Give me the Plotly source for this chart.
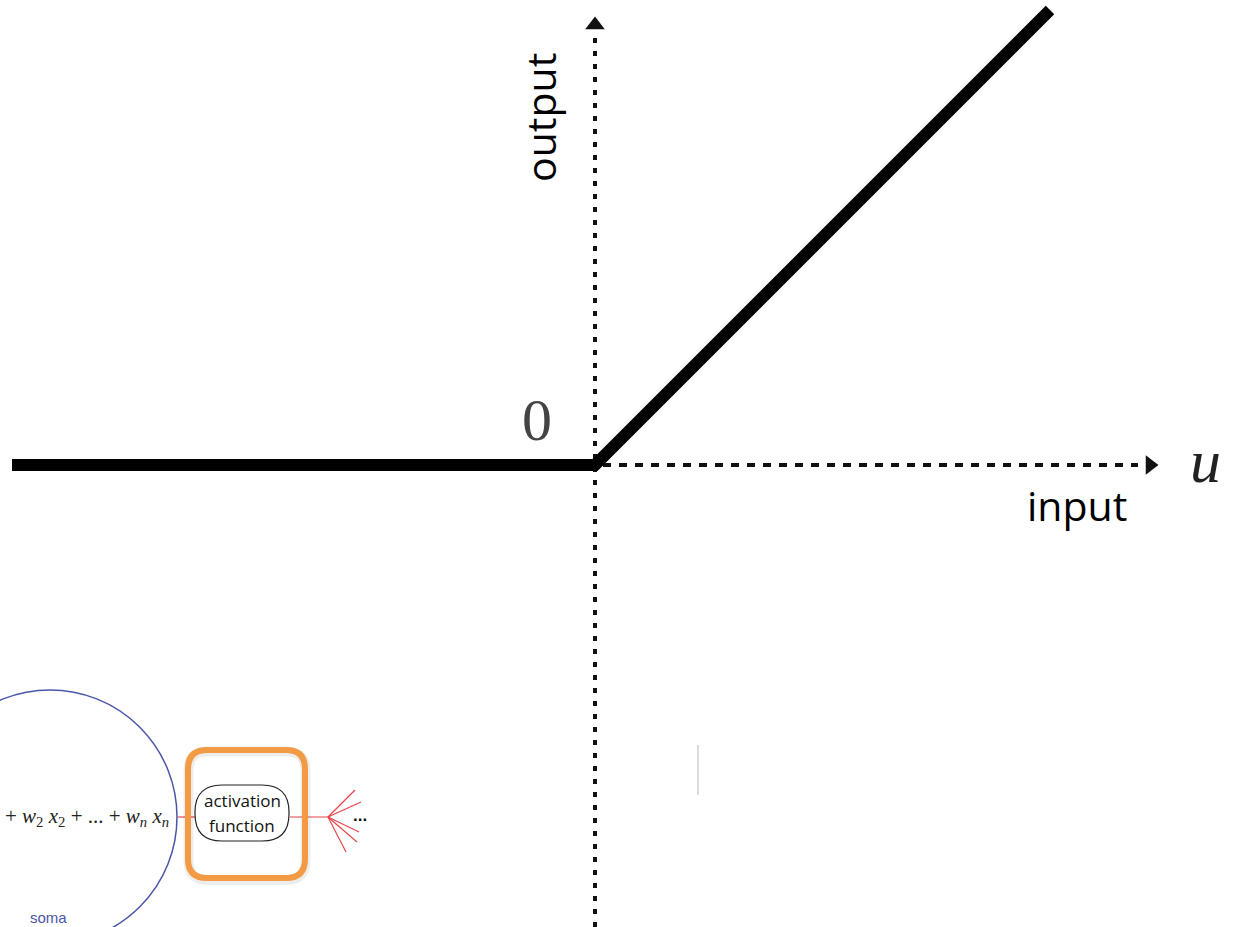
import plotly.graph_objects as go

# ---- data ----
u_in = [-5.83, 0.0, 4.55]          # input values (ReLU curve)
relu_out = [0.0, 0.0, 4.55]        # output values
axis_labels = ["input", "output"]
origin_label = "0"
var_label = "u"
neuron_texts = ["activation", "function", "soma"]

X_RANGE = [-5.95, 6.39]
Y_RANGE = [-4.62, 4.65]

fig = go.Figure()

# dotted vertical axis
fig.add_trace(go.Scatter(x=[0, 0], y=[Y_RANGE[0], 4.28], mode="lines",
                         line=dict(color="#111", width=4, dash="5px,8px"),
                         hoverinfo="skip"))
# dotted horizontal axis
fig.add_trace(go.Scatter(x=[0.08, 5.43], y=[0, 0], mode="lines",
                         line=dict(color="#111", width=4, dash="8px,8px"),
                         hoverinfo="skip"))
# arrow heads
fig.add_trace(go.Scatter(x=[0.0], y=[4.40], mode="markers",
                         marker=dict(symbol="triangle-up", size=17, color="#111"),
                         hoverinfo="skip"))
fig.add_trace(go.Scatter(x=[5.55], y=[0.0], mode="markers",
                         marker=dict(symbol="triangle-right", size=17, color="#111"),
                         hoverinfo="skip"))
# ReLU
fig.add_trace(go.Scatter(x=u_in, y=relu_out, mode="lines",
                         line=dict(color="#000", width=12),
                         hoverinfo="skip"))

# ---- neuron inset (decorative) ----
def rounded_rect(xl, yb, xr, yt, r):
    return (f"M {xl+r},{yt} L {xr-r},{yt} Q {xr},{yt} {xr},{yt-r} "
            f"L {xr},{yb+r} Q {xr},{yb} {xr-r},{yb} L {xl+r},{yb} "
            f"Q {xl},{yb} {xl},{yb+r} L {xl},{yt-r} Q {xl},{yt} {xl+r},{yt} Z")

shapes = []
# soma circle
shapes.append(dict(type="circle", xref="x", yref="y", x0=-6.72, x1=-4.18, y0=-4.79, y1=-2.25,
                   line=dict(color="#4a56a8", width=1.5)))
# red axon lines
red = "#e8474a"
for seg in [((-4.17, -3.52), (-4.00, -3.52)), ((-3.05, -3.52), (-2.67, -3.52)),
            ((-2.67, -3.52), (-2.40, -3.25)), ((-2.67, -3.52), (-2.34, -3.37)),
            ((-2.67, -3.52), (-2.36, -3.67)), ((-2.67, -3.52), (-2.38, -3.77)),
            ((-2.67, -3.52), (-2.49, -3.87))]:
    shapes.append(dict(type="line", xref="x", yref="y", x0=seg[0][0], y0=seg[0][1],
                       x1=seg[1][0], y1=seg[1][1], line=dict(color=red, width=1.2)))
# shadow of orange box
shapes.append(dict(type="path", xref="x", yref="y",
                   path=rounded_rect(-4.065, -4.15, -2.895, -2.865, 0.19),
                   line=dict(color="rgba(0,0,0,0.07)", width=10)))
# orange box
shapes.append(dict(type="path", xref="x", yref="y",
                   path=rounded_rect(-4.07, -4.13, -2.90, -2.85, 0.19),
                   line=dict(color="#f39a45", width=6)))
# pill
shapes.append(dict(type="path", xref="x", yref="y",
                   path=rounded_rect(-4.00, -3.76, -3.06, -3.20, 0.27),
                   fillcolor="white",
                   line=dict(color="#222", width=1.2)))
# small grey artifact line
shapes.append(dict(type="line", xref="x", yref="y", x0=1.03, x1=1.03, y0=-2.80, y1=-3.30,
                   line=dict(color="#cfcfcf", width=1.5)))

annotations = [
    dict(x=-0.55, y=3.47, text=axis_labels[1], textangle=-90, showarrow=False,
         font=dict(family="Open Sans", size=41, color="#000")),
    dict(x=4.82, y=-0.40, text=axis_labels[0], showarrow=False,
         font=dict(family="Open Sans", size=41, color="#000")),
    dict(x=-0.58, y=0.45, text=origin_label, showarrow=False,
         font=dict(family="Liberation Serif", size=60, color="#444")),
    dict(x=6.10, y=0.04, text=f"<i>{var_label}</i>", showarrow=False,
         font=dict(family="Liberation Serif", size=62, color="#222")),
    dict(x=-4.24, y=-3.52, xanchor="right",
         text="+ <i>w</i><sub>2</sub> <i>x</i><sub>2</sub> + ... + <i>w<sub>n</sub></i> <i>x<sub>n</sub></i>",
         showarrow=False, font=dict(family="Liberation Serif", size=21, color="#222")),
    dict(x=-3.53, y=-3.35, text=neuron_texts[0], showarrow=False,
         font=dict(family="Open Sans", size=17, color="#111")),
    dict(x=-3.53, y=-3.60, text=neuron_texts[1], showarrow=False,
         font=dict(family="Open Sans", size=17, color="#111")),
    dict(x=-5.47, y=-4.52, text=neuron_texts[2], showarrow=False,
         font=dict(family="Liberation Sans", size=15, color="#4a56a8")),
    dict(x=-2.35, y=-3.50, text="<b>...</b>", showarrow=False,
         font=dict(family="Liberation Sans", size=17, color="#111")),
]

fig.update_layout(
    width=1234, height=927,
    margin=dict(l=0, r=0, t=0, b=0),
    paper_bgcolor="white", plot_bgcolor="white",
    showlegend=False,
    xaxis=dict(range=X_RANGE, visible=False, fixedrange=True),
    yaxis=dict(range=Y_RANGE, visible=False, fixedrange=True),
    shapes=shapes,
    annotations=annotations,
)

fig.write_html("out.html", config={"displayModeBar": False},
               post_script="document.body.style.margin='0';")
